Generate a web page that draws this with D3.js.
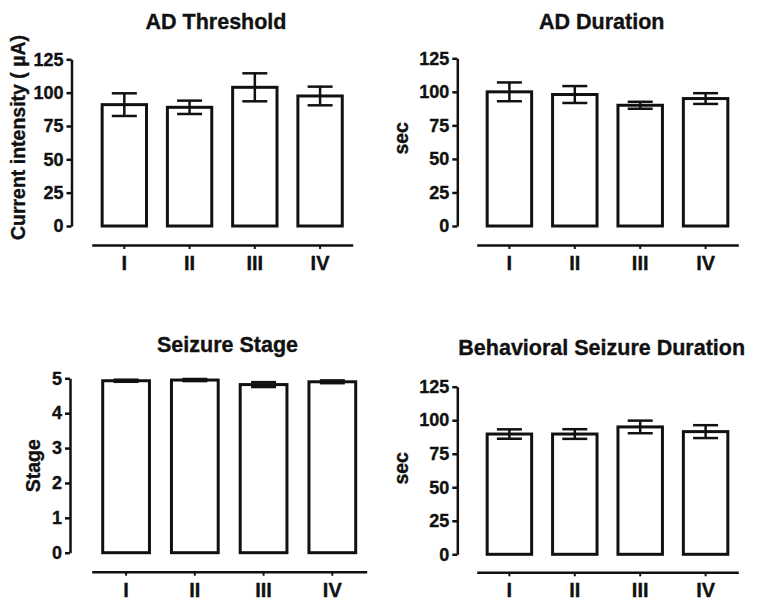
<!DOCTYPE html>
<html>
<head>
<meta charset="utf-8">
<script src="https://cdn.jsdelivr.net/npm/d3@7"></script>
<style>
  html, body { margin: 0; padding: 0; background: #fff; }
  svg { display: block; }
  text { font-family: "Liberation Sans", Arial, sans-serif; font-weight: bold; fill: #111; }
</style>
</head>
<body>
<svg id="chart" width="762" height="606"></svg>
<script>
// ---- Data ----
const categories = ["I", "II", "III", "IV"];

const adThresholdMean = [91, 89, 104, 97.5];
const adThresholdSem  = [8.5, 5, 10.5, 7];

const adDurationMean = [100, 98, 90, 95];
const adDurationSem  = [7, 6.3, 2.6, 4];

const seizureStageMean = [4.93, 4.95, 4.82, 4.9];
const seizureStageSem  = [0.03, 0.03, 0.07, 0.04];

const behavDurationMean = [89.7, 89.7, 95, 91.5];
const behavDurationSem  = [3.5, 3.6, 4.7, 4.8];

const ticks125 = [0, 25, 50, 75, 100, 125];
const ticks5 = [0, 1, 2, 3, 4, 5];

const titles = ["AD Threshold", "AD Duration", "Seizure Stage", "Behavioral Seizure Duration"];
const yLabels = ["Current intensity ( \u00B5A)", "sec", "Stage", "sec"];

// ---- Layout ----
const panels = [
  { mean: adThresholdMean, sem: adThresholdSem, ticks: ticks125, yMax: 125,
    title: titles[0], yLabel: yLabels[0],
    axisX: 71.5, yBottom: 226, yTop: 59.3, xLeft: 91.7, xRight: 352.7, xAxisY: 245,
    titleX: 216, titleY: 28.5, labelX: 25, labelY: 137.5 },
  { mean: adDurationMean, sem: adDurationSem, ticks: ticks125, yMax: 125,
    title: titles[1], yLabel: yLabels[1],
    axisX: 457.3, yBottom: 226, yTop: 58.3, xLeft: 476.7, xRight: 738.3, xAxisY: 245,
    titleX: 601.7, titleY: 28.5, labelX: 408.3, labelY: 138.3 },
  { mean: seizureStageMean, sem: seizureStageSem, ticks: ticks5, yMax: 5,
    title: titles[2], yLabel: yLabels[2],
    axisX: 70, yBottom: 552.7, yTop: 378.3, xLeft: 91.7, xRight: 366.7, xAxisY: 571.7,
    titleX: 227.5, titleY: 351.7, labelX: 40, labelY: 465.8 },
  { mean: behavDurationMean, sem: behavDurationSem, ticks: ticks125, yMax: 125,
    title: titles[3], yLabel: yLabels[3],
    axisX: 457.3, yBottom: 554.3, yTop: 386.7, xLeft: 476.7, xRight: 738.3, xAxisY: 572.3,
    titleX: 601.7, titleY: 355, labelX: 408.3, labelY: 468.3 }
];

const svg = d3.select("#chart");
const ink = "#111";
const fontFam = "'Liberation Sans', Arial, sans-serif";

function styleText(sel, size) {
  sel.style("font-size", size).style("font-family", fontFam).style("font-weight", "bold")
    .attr("fill", ink).attr("stroke", ink).attr("stroke-width", 0.35);
}

panels.forEach(p => {
  const g = svg.append("g");
  const y = d3.scaleLinear().domain([0, p.yMax]).range([p.yBottom, p.yTop]);
  const x = d3.scaleBand().domain(categories).range([p.xLeft, p.xRight])
    .paddingInner(0.32).paddingOuter(0.16);

  // Title
  g.append("text").attr("x", p.titleX).attr("y", p.titleY)
    .attr("text-anchor", "middle").text(p.title).call(styleText, "21.5px");

  // Y label
  g.append("text")
    .attr("transform", `translate(${p.labelX},${p.labelY}) rotate(-90)`)
    .attr("text-anchor", "middle").text(p.yLabel).call(styleText, "19.5px");

  // Y axis
  const yAxis = g.append("g").attr("transform", `translate(${p.axisX},0)`)
    .call(d3.axisLeft(y).tickValues(p.ticks).tickFormat(d3.format("d"))
      .tickSize(5).tickPadding(3).tickSizeOuter(0));
  yAxis.select(".domain").attr("stroke", ink).attr("stroke-width", 2.5);
  yAxis.selectAll(".tick line").attr("stroke", ink).attr("stroke-width", 2.5);
  yAxis.selectAll(".tick text").call(styleText, "18px");

  // X axis (separate line below)
  const xAxis = g.append("g").attr("transform", `translate(0,${p.xAxisY})`)
    .call(d3.axisBottom(x).tickSize(4).tickPadding(7).tickSizeOuter(0));
  xAxis.select(".domain").attr("stroke", ink).attr("stroke-width", 2.5);
  xAxis.selectAll(".tick line").attr("stroke", ink).attr("stroke-width", 2);
  xAxis.selectAll(".tick text").call(styleText, "20px");

  // Bars
  g.selectAll("rect.bar").data(categories).join("rect")
    .attr("class", "bar")
    .attr("x", d => x(d))
    .attr("width", x.bandwidth())
    .attr("y", (d, i) => y(p.mean[i]))
    .attr("height", (d, i) => y(0) - y(p.mean[i]))
    .attr("fill", "#fff").attr("stroke", ink).attr("stroke-width", 3);

  // Error bars
  const capW = 25;
  categories.forEach((c, i) => {
    const cx = x(c) + x.bandwidth() / 2;
    const hi = y(p.mean[i] + p.sem[i]);
    const lo = y(p.mean[i] - p.sem[i]);
    g.append("line").attr("x1", cx).attr("x2", cx).attr("y1", hi).attr("y2", lo)
      .attr("stroke", ink).attr("stroke-width", 2.5);
    [hi, lo].forEach(v => {
      g.append("line").attr("x1", cx - capW / 2).attr("x2", cx + capW / 2)
        .attr("y1", v).attr("y2", v).attr("stroke", ink).attr("stroke-width", 2.5);
    });
  });
});
</script>
</body>
</html>
